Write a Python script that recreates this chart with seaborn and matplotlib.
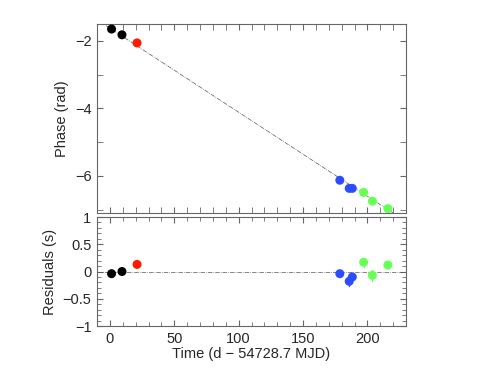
import numpy as np
import matplotlib
matplotlib.use("Agg")
import matplotlib.pyplot as plt
import seaborn as sns
from matplotlib.ticker import MultipleLocator

# --- data ---
time = [1.3, 9.4, 21.1, 178.6, 185.9, 188.3, 197.1, 203.9, 215.9]
phase = [-1.65, -1.82, -2.06, -6.13, -6.37, -6.37, -6.49, -6.75, -6.97]
resid = [-0.04, 0.0, 0.13, -0.04, -0.18, -0.10, 0.17, -0.07, 0.12]
resid_err = [0.02, 0.02, 0.02, 0.06, 0.09, 0.07, 0.08, 0.10, 0.08]
groups = ['a', 'a', 'b', 'c', 'c', 'c', 'd', 'd', 'd']
palette = {'a': 'black', 'b': '#ff1a00', 'c': '#2b4cff', 'd': '#66ff55'}

# fitted phase model (straight line)
fit_t = [-3.0, 220.0]
fit_p = [-1.55, -7.1]

sns.set_style("ticks")
plt.rcParams['font.family'] = ['Liberation Sans', 'DejaVu Sans']

fig = plt.figure(figsize=(4.91, 3.68), dpi=100)
ax1 = fig.add_axes([97 / 491, 1 - 213 / 368, 309 / 491, 189 / 368])
ax2 = fig.add_axes([97 / 491, 1 - 326 / 368, 309 / 491, 109 / 368])

ax1.plot(fit_t, fit_p, color='#555555', lw=0.5, ls='-.')
sns.scatterplot(x=time, y=phase, hue=groups, palette=palette, ax=ax1,
                s=42, linewidth=0, legend=False, zorder=3)

ax2.axhline(0, color='#555555', lw=0.5, ls='-.')
for t, r, e, g in zip(time, resid, resid_err, groups):
    ax2.plot([t, t], [r - e, r + e], color=palette[g], lw=1, zorder=2)
sns.scatterplot(x=time, y=resid, hue=groups, palette=palette, ax=ax2,
                s=42, linewidth=0, legend=False, zorder=3)

for ax in (ax1, ax2):
    ax.set_xlim(-10, 230)
    ax.xaxis.set_major_locator(MultipleLocator(50))
    ax.xaxis.set_minor_locator(MultipleLocator(10))
    ax.tick_params(which='both', direction='in', top=True, right=True,
                   color='#666666', labelsize=10.5, pad=4)
    ax.tick_params(which='major', length=4)
    ax.tick_params(which='minor', length=3)
    for sp in ax.spines.values():
        sp.set_color('#666666')
        sp.set_linewidth(0.8)

ax1.set_ylim(-7.1, -1.5)
ax1.yaxis.set_major_locator(MultipleLocator(2))
ax1.yaxis.set_minor_locator(MultipleLocator(1))
ax1.tick_params(which='minor', length=4)
ax1.tick_params(labelbottom=False)
ax1.set_ylabel("Phase (rad)", fontsize=10.5)

ax2.set_ylim(-1, 1)
ax2.yaxis.set_minor_locator(MultipleLocator(0.1))
ax2.set_yticks([-1, -0.5, 0, 0.5, 1])
ax2.set_yticklabels(['\u22121', '\u22120.5', '0', '0.5', '1'])
ax2.set_ylabel("Residuals (s)", fontsize=10.5)
ax2.set_xlabel("Time (d \u2212 54728.7 MJD)", fontsize=10.5, labelpad=1)

fig.savefig("out.png", dpi=100)
